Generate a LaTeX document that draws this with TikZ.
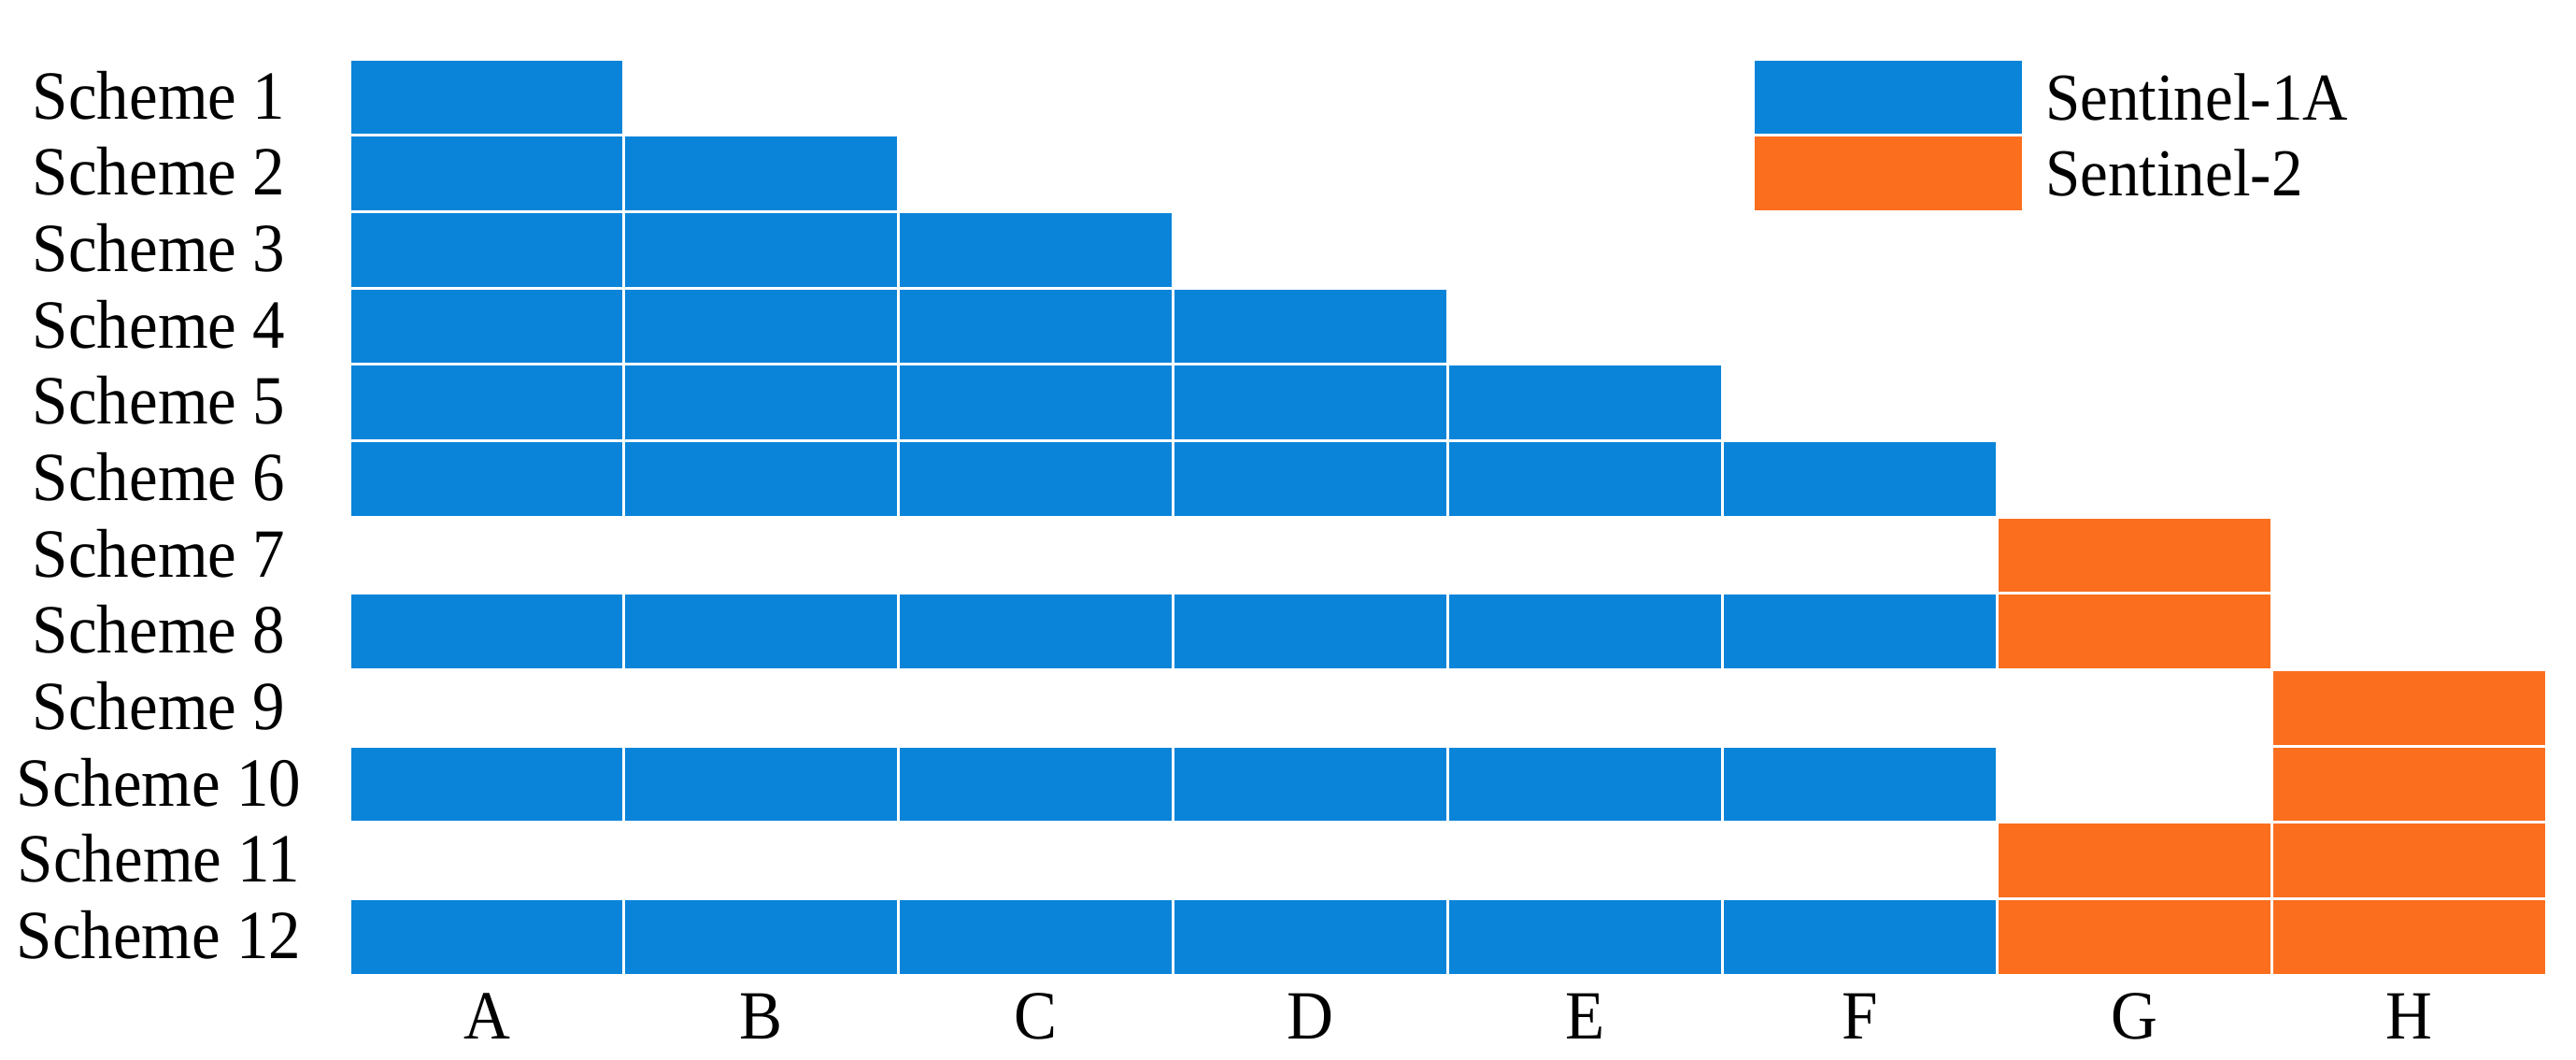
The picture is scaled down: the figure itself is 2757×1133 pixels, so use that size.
\documentclass[tikz,border=0pt]{standalone}
\usepackage{fontspec}
\setmainfont{Liberation Serif}
\definecolor{sblue}{RGB}{10,132,217}
\definecolor{sorange}{RGB}{250,110,30}
\newcommand\mycell[3]{\path[cell,fill=#3] ({374+(#1)*293.9},{63+(#2)*81.67}) rectangle ++(293.9,81.67);}
\newcommand\tallt[1]{\scalebox{1}[1.07]{#1}}
\begin{document}
\begin{tikzpicture}[x=1pt,y=-1pt,
  cell/.style={draw=white,line width=3pt},
  lab/.style={font=\fontsize{69}{80}\selectfont,inner sep=0pt},
  leglab/.style={font=\fontsize{67}{80}\selectfont,inner sep=0pt,anchor=west}]
\useasboundingbox (0,0) rectangle (2757,1133);
% blue cells
\foreach \r/\n in {0/0,1/1,2/2,3/3,4/4,5/5,7/5,9/5,11/5}{
  \foreach \c in {0,...,\n}{\mycell{\c}{\r}{sblue}}
}
% orange cells
\foreach \c/\r in {6/6,6/7,7/8,7/9,6/10,7/10,6/11,7/11}{\mycell{\c}{\r}{sorange}}
% row labels
\foreach \i in {1,...,12}{
  \node[lab] (s\i) at (170,{61+(\i-0.5)*81.67}) {\tallt{Scheme \i}};
}
% column labels
\foreach \l [count=\k from 0] in {A,B,C,D,E,F,G,H}{
  \node[lab] (c\l) at ({374+(\k+0.5)*293.9},1087) {\tallt{\l}};
}
% legend
\path[cell,fill=sblue] (1876,63) rectangle ++(289,81.67);
\path[cell,fill=sorange] (1876,144.67) rectangle ++(289,81.67);
\node[leglab] (l1) at (2189,104) {\tallt{Sentinel-1A}};
\node[leglab] (l2) at (2189,185) {\tallt{Sentinel-2}};
\end{tikzpicture}
\end{document}
